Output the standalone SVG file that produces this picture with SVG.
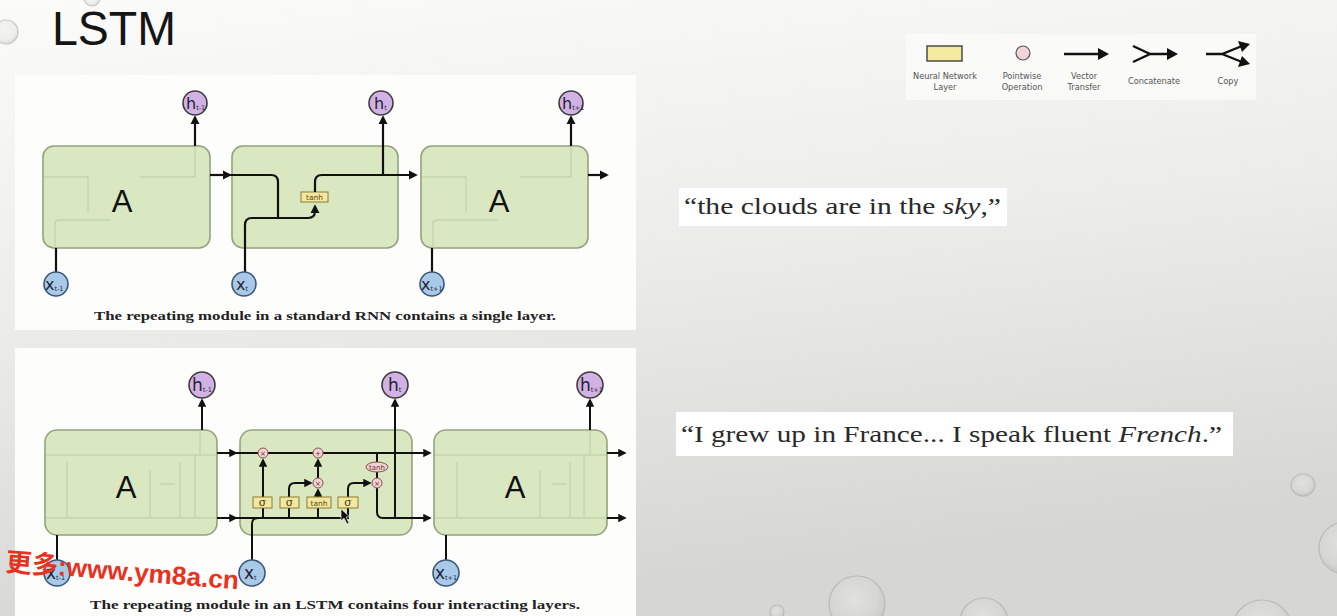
<svg xmlns="http://www.w3.org/2000/svg" width="1337" height="616" viewBox="0 0 1337 616">
<defs>
<linearGradient id="bg" x1="0" y1="0" x2="0.25" y2="1">
<stop offset="0" stop-color="#fbfbf9"/>
<stop offset="0.5" stop-color="#ececea"/>
<stop offset="1" stop-color="#d6d6d4"/>
</linearGradient>
<radialGradient id="drop" cx="0.45" cy="0.4" r="0.6">
<stop offset="0" stop-color="#f0f0f0" stop-opacity="0.8"/>
<stop offset="0.7" stop-color="#d8d8d8" stop-opacity="0.5"/>
<stop offset="1" stop-color="#b0b0b0" stop-opacity="0.7"/>
</radialGradient>
<marker id="ah" viewBox="0 0 10 10" refX="8" refY="5" markerWidth="4.2" markerHeight="4.2" orient="auto" markerUnits="strokeWidth">
<path d="M0,0 L10,5 L0,10 z" fill="#111"/>
</marker>
<style>
.ttl{font-family:"Liberation Sans",Arial,sans-serif;fill:#151515}
.box{fill:#d9e8c1;stroke:#93a27b;stroke-width:1.6}
.A{font-family:"Liberation Sans",Arial,sans-serif;font-size:31px;fill:#111;text-anchor:middle}
.hc{fill:#d2b2e4;stroke:#3c3c3c;stroke-width:1.6}
.xc{fill:#a9c9e8;stroke:#3a5878;stroke-width:1.6}
.lab{font-family:"DejaVu Sans","Liberation Sans",sans-serif;fill:#1d2433}
.sub{font-size:6.5px}
.ln{fill:none;stroke:#111;stroke-width:2.2;stroke-linecap:butt}
.lnl{fill:none;stroke:#111;stroke-width:2}
.ghost{fill:none;stroke:#a4b38c;stroke-width:1.3;opacity:0.4}
.gate{fill:#f3e8a2;stroke:#8b7b2e;stroke-width:1}
.gt{font-family:"DejaVu Sans","Liberation Sans",sans-serif;font-size:7.5px;fill:#5a4a10;text-anchor:middle}
.sg{font-family:"DejaVu Serif","Liberation Serif",serif;font-size:11px;fill:#4a3c0c;text-anchor:middle}
.pw{fill:#f2d3d3;stroke:#8a4f4f;stroke-width:1}
.pt{font-family:"DejaVu Sans","Liberation Sans",sans-serif;font-size:7px;fill:#6a3030;text-anchor:middle}
.cap{font-family:"Liberation Serif","Times New Roman",serif;font-weight:bold;font-size:13.5px;fill:#222;text-anchor:middle}
.q{font-family:"Liberation Serif","Times New Roman",serif;font-size:23px;fill:#2a2a2a}
.leg{font-family:"DejaVu Sans","Liberation Sans",sans-serif;font-size:8.2px;fill:#555;text-anchor:middle}
.lg{fill:none;stroke:#111;stroke-width:2.4}
.drop{fill:url(#drop);stroke:#a9a9a9;stroke-width:1.2}
</style>
</defs>

<rect width="1337" height="616" fill="url(#bg)"/>

<g id="droplets" opacity="0.6">
<circle class="drop" cx="6" cy="32" r="12"/>
<circle class="drop" cx="92" cy="-2" r="8"/>
<ellipse class="drop" cx="1303" cy="485" rx="12" ry="11"/>
<circle class="drop" cx="1345" cy="548" r="26"/>
<circle class="drop" cx="857" cy="604" r="28"/>
<circle class="drop" cx="777" cy="612" r="7"/>
<circle class="drop" cx="984" cy="622" r="24"/>
<circle class="drop" cx="1262" cy="630" r="30"/>
</g>

<text class="ttl" x="52" y="45" font-size="48" textLength="124" lengthAdjust="spacingAndGlyphs">LSTM</text>

<!-- panels -->
<rect x="15" y="75" width="621" height="255" fill="#fdfdfc"/>
<rect x="15" y="348" width="621" height="268" fill="#fdfdfc"/>
<rect x="906" y="34" width="350" height="66" fill="#fbfbfa" opacity="0.8"/>
<rect x="679" y="188" width="328" height="38" fill="#ffffff"/>
<rect x="676" y="412" width="557" height="44" fill="#ffffff"/>

<!-- ===== RNN ===== -->
<g id="rnn-box1">
<rect class="box" x="43" y="146" width="167" height="102" rx="11"/>
<path class="ghost" d="M43,177 H88 V213 M55,248 V224 Q55,220 60,220 H110 M140,177 H195 V146"/>
<text class="A" x="122" y="212">A</text>
</g>
<g id="rnn-box2">
<rect class="box" x="232" y="146" width="166" height="102" rx="11"/>
</g>
<g id="rnn-box3">
<rect class="box" x="421" y="146" width="167" height="102" rx="11"/>
<path class="ghost" d="M421,177 H466 V213 M433,248 V224 Q433,220 438,220 H498 M520,177 H571 V146"/>
<text class="A" x="499" y="212">A</text>
</g>
<g id="rnn-tanh">
<rect class="gate" x="301" y="192" width="27" height="10"/>
<text class="gt" x="314.5" y="200">tanh</text>
</g>
<g id="rnn-connectors">
<path class="ln" d="M195,146 V117" marker-end="url(#ah)"/>
<path class="ln" d="M210,175 H230" marker-end="url(#ah)"/>
<path class="ln" d="M56,272 V248"/>
<path class="ln" d="M230,175 H271 Q278,175 278,182 V218"/>
<path class="ln" d="M245,272 V225 Q245,218 252,218 H308 Q315,218 315,211 V206" marker-end="url(#ah)"/>
<path class="ln" d="M315,192 V182 Q315,175 322,175 H416" marker-end="url(#ah)"/>
<path class="ln" d="M383,175 V117" marker-end="url(#ah)"/>
<path class="ln" d="M432,272 V248"/>
<path class="ln" d="M571,146 V117" marker-end="url(#ah)"/>
<path class="ln" d="M588,175 H607" marker-end="url(#ah)"/>
</g>
<g id="rnn-h1"><circle class="hc" cx="195" cy="103" r="12"/><text class="lab" x="186" y="109" font-size="16">h<tspan class="sub" dy="1">t-1</tspan></text></g>
<g id="rnn-h2"><circle class="hc" cx="381" cy="103" r="12"/><text class="lab" x="374" y="109" font-size="16">h<tspan class="sub" dy="1">t</tspan></text></g>
<g id="rnn-h3"><circle class="hc" cx="571" cy="103" r="12"/><text class="lab" x="562" y="109" font-size="16">h<tspan class="sub" dy="1">t+1</tspan></text></g>
<g id="rnn-x1"><circle class="xc" cx="56" cy="284" r="12"/><text class="lab" x="45" y="290" font-size="16">x<tspan class="sub" dy="1">t-1</tspan></text></g>
<g id="rnn-x2"><circle class="xc" cx="244" cy="284" r="12"/><text class="lab" x="236" y="290" font-size="16">x<tspan class="sub" dy="1">t</tspan></text></g>
<g id="rnn-x3"><circle class="xc" cx="432" cy="284" r="12"/><text class="lab" x="421" y="290" font-size="16">x<tspan class="sub" dy="1">t+1</tspan></text></g>
<text class="cap" x="325" y="320" textLength="462" lengthAdjust="spacingAndGlyphs">The repeating module in a standard RNN contains a single layer.</text>

<!-- ===== LSTM ===== -->
<g id="lstm-box1">
<rect class="box" x="45" y="430" width="172" height="105" rx="12"/>
<path class="ghost" d="M45,455 H217 M45,518 H217 M67,518 V462 M150,518 V470 M180,518 V462 M160,484 H175 M195,455 V518 M200,430 V455"/>
<text class="A" x="126" y="498">A</text>
</g>
<g id="lstm-box2">
<rect class="box" x="240" y="430" width="172" height="105" rx="12"/>
</g>
<g id="lstm-box3">
<rect class="box" x="434" y="430" width="173" height="105" rx="12"/>
<path class="ghost" d="M434,455 H607 M434,518 H607 M457,518 V462 M540,518 V470 M570,518 V462 M552,484 H566 M584,455 V518 M590,430 V455"/>
<text class="A" x="515" y="498">A</text>
</g>
<g id="lstm-connectors">
<path class="lnl" d="M202,430 V400" marker-end="url(#ah)"/>
<path class="lnl" d="M217,453 H236" marker-end="url(#ah)"/>
<path class="lnl" d="M217,518 H236" marker-end="url(#ah)"/>
<path class="lnl" d="M57,560 V535"/>
<path class="lnl" d="M236,453 H430" marker-end="url(#ah)"/>
<path class="lnl" d="M236,518 H349"/>
<path class="lnl" d="M252,560 V524 Q252,518 258,518"/>
<path class="lnl" d="M263,518 V508 M289,518 V508 M318,518 V508 M348,518 V508"/>
<path class="lnl" d="M263,497 V460" marker-end="url(#ah)"/>
<path class="lnl" d="M289,497 V489 Q289,483 295,483 H311" marker-end="url(#ah)"/>
<path class="lnl" d="M318,497 V490" marker-end="url(#ah)"/>
<path class="lnl" d="M318,478 V460" marker-end="url(#ah)"/>
<path class="lnl" d="M348,497 V489 Q348,483 354,483 H370" marker-end="url(#ah)"/>
<path class="lnl" d="M377,453 V462 M377,472 V478"/>
<path class="lnl" d="M377,488 V512 Q377,518 383,518 H430" marker-end="url(#ah)"/>
<path class="lnl" d="M395,518 V400" marker-end="url(#ah)"/>
<path class="lnl" d="M446,560 V535"/>
<path class="lnl" d="M590,430 V400" marker-end="url(#ah)"/>
<path class="lnl" d="M607,453 H625" marker-end="url(#ah)"/>
<path class="lnl" d="M607,518 H625" marker-end="url(#ah)"/>
</g>
<g id="lstm-gate1"><rect class="gate" x="253" y="497" width="19" height="11"/><text class="sg" x="262.5" y="506">σ</text></g>
<g id="lstm-gate2"><rect class="gate" x="280" y="497" width="19" height="11"/><text class="sg" x="289.5" y="506">σ</text></g>
<g id="lstm-gate3"><rect class="gate" x="307" y="497" width="24" height="11"/><text class="gt" x="319" y="505.5">tanh</text></g>
<g id="lstm-gate4"><rect class="gate" x="338" y="497" width="20" height="11"/><text class="sg" x="348" y="506">σ</text></g>
<g id="lstm-op1"><circle class="pw" cx="263" cy="453" r="5"/><text class="pt" x="263" y="455.5">×</text></g>
<g id="lstm-op2"><circle class="pw" cx="318" cy="453" r="5"/><text class="pt" x="318" y="455.5">+</text></g>
<g id="lstm-op3"><circle class="pw" cx="318" cy="483" r="5"/><text class="pt" x="318" y="485.5">×</text></g>
<g id="lstm-op4"><circle class="pw" cx="377" cy="483" r="5"/><text class="pt" x="377" y="485.5">×</text></g>
<g id="lstm-op5"><ellipse class="pw" cx="377" cy="467" rx="11" ry="5"/><text class="pt" x="377" y="469.5" font-size="6.5">tanh</text></g>
<g id="lstm-h1"><circle class="hc" cx="202" cy="385" r="13"/><text class="lab" x="192" y="391" font-size="17">h<tspan class="sub" dy="1">t-1</tspan></text></g>
<g id="lstm-h2"><circle class="hc" cx="395" cy="385" r="13"/><text class="lab" x="388" y="391" font-size="17">h<tspan class="sub" dy="1">t</tspan></text></g>
<g id="lstm-h3"><circle class="hc" cx="590" cy="385" r="13"/><text class="lab" x="580" y="391" font-size="17">h<tspan class="sub" dy="1">t+1</tspan></text></g>
<g id="lstm-x1"><circle class="xc" cx="57" cy="573" r="13"/><text class="lab" x="46" y="579" font-size="17">x<tspan class="sub" dy="1">t-1</tspan></text></g>
<g id="lstm-x2"><circle class="xc" cx="252" cy="573" r="13"/><text class="lab" x="244" y="579" font-size="17">x<tspan class="sub" dy="1">t</tspan></text></g>
<g id="lstm-x3"><circle class="xc" cx="446" cy="573" r="13"/><text class="lab" x="435" y="579" font-size="17">x<tspan class="sub" dy="1">t+1</tspan></text></g>
<path d="M341,509 L341,521 L344,518 L347,524 L349,523 L346,517 L350,517 Z" fill="#111" stroke="#fff" stroke-width="0.6"/>
<text class="cap" x="335" y="609" textLength="490" lengthAdjust="spacingAndGlyphs">The repeating module in an LSTM contains four interacting layers.</text>

<!-- legend -->
<g id="legend-nn"><rect x="927" y="46" width="35" height="15" fill="#f2ea9e" stroke="#333" stroke-width="1.3"/><text class="leg" x="945" y="79">Neural Network</text><text class="leg" x="945" y="90">Layer</text></g>
<g id="legend-pw"><circle cx="1023" cy="53" r="7" fill="#f2d3d8" stroke="#555" stroke-width="1.2"/><text class="leg" x="1022" y="79">Pointwise</text><text class="leg" x="1022" y="90">Operation</text></g>
<g id="legend-vt"><path class="lg" d="M1064,54 H1100"/><path d="M1098,48 L1109,54 L1098,60 Z" fill="#111"/><text class="leg" x="1084" y="79">Vector</text><text class="leg" x="1084" y="90">Transfer</text></g>
<g id="legend-cat"><path class="lg" d="M1133,46 L1150,54 L1133,62 M1150,54 H1168"/><path d="M1167,48 L1178,54 L1167,60 Z" fill="#111"/><text class="leg" x="1154" y="84">Concatenate</text></g>
<g id="legend-copy"><path class="lg" d="M1206,54 H1222 L1242,46 M1222,54 L1242,62"/><path d="M1238,41 L1250,44 L1242,52 Z" fill="#111"/><path d="M1238,67 L1250,64 L1242,56 Z" fill="#111"/><text class="leg" x="1228" y="84">Copy</text></g>

<!-- quotes -->
<text class="q" x="684" y="214" textLength="317" lengthAdjust="spacingAndGlyphs">“the clouds are in the <tspan font-style="italic">sky</tspan>,”</text>
<text class="q" x="681" y="442" textLength="541" lengthAdjust="spacingAndGlyphs">“I grew up in France... I speak fluent <tspan font-style="italic">French</tspan>.”</text>

<!-- watermark -->
<text x="5" y="571" transform="rotate(4.5 5 571)" font-family="'Liberation Sans','Noto Sans CJK SC',sans-serif" font-weight="bold" font-size="26" fill="#e8321e" textLength="234" lengthAdjust="spacingAndGlyphs">更多:www.ym8a.cn</text>
</svg>
